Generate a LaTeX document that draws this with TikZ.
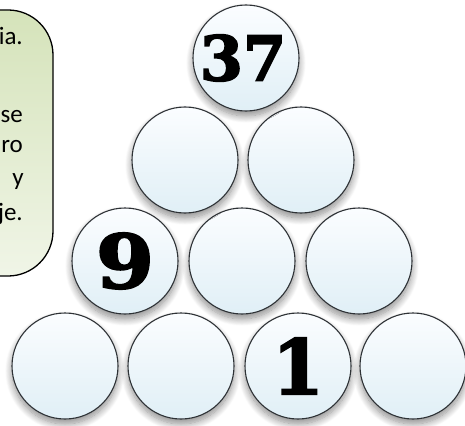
\documentclass[tikz,border=0pt]{standalone}
\usepackage{fontspec}
\usepackage{graphicx}
\setmainfont{Carlito}
\newfontfamily\numfont{DejaVu Serif Bold}[FakeBold=2.5]
\usetikzlibrary{shadows.blur}
\definecolor{ballbot}{HTML}{E0EFF6}
\definecolor{balltop}{HTML}{FBFDFF}
\definecolor{ballline}{HTML}{2E3236}
\definecolor{boxtop}{HTML}{D5E3BA}
\definecolor{boxbot}{HTML}{F0F5E7}
\definecolor{shadowcol}{HTML}{7F8FB0}
\tikzset{
  ball/.style={circle, minimum size=106pt, inner sep=0pt, draw=ballline, line width=1.1pt,
    top color=balltop, bottom color=ballbot,
    blur shadow={shadow xshift=0pt, shadow yshift=-5pt, shadow blur radius=7pt,
      shadow opacity=45, shadow blur steps=12},
    font=\numfont\fontsize{62}{62}\selectfont},
  boxline/.style={anchor=base east, inner sep=0pt, font=\fontsize{25}{30}\selectfont}
}
\begin{document}
\begin{tikzpicture}[x=1pt,y=-1pt]
\useasboundingbox (0,0) rectangle (465,425);
% text box
\draw[line width=1.3pt, top color=boxtop, bottom color=boxbot, rounded corners=45pt]
  (-80,10) -- (53,10) -- (53,276) -- (-80,276);
\node[boxline] (l1) at (23,45) {ia.};
\node[boxline] (l2) at (23,122) {se};
\node[boxline] (l3) at (23,152) {ro};
\node[boxline] (l4) at (24,185) {y};
\node[boxline] (l5) at (23,220) {je.};
% balls, bottom row first so upper rows' shadows overlap correctly
\node[ball] (d1) at (65,366) {};
\node[ball] (d2) at (181,366) {};
\node[ball] (d3) at (298,366) {\raisebox{-2pt}{\scalebox{1.2}[1.22]{1}}};
\node[ball] (d4) at (413,366) {};
\node[ball] (c1) at (125,261) {\scalebox{1.35}[1.2]{9}};
\node[ball] (c2) at (242,261) {};
\node[ball] (c3) at (359,261) {};
\node[ball] (b1) at (185,160) {};
\node[ball] (b2) at (301,160) {};
\node[ball] (a1) at (246,58) {\hspace*{-6pt}37};
\end{tikzpicture}
\end{document}
